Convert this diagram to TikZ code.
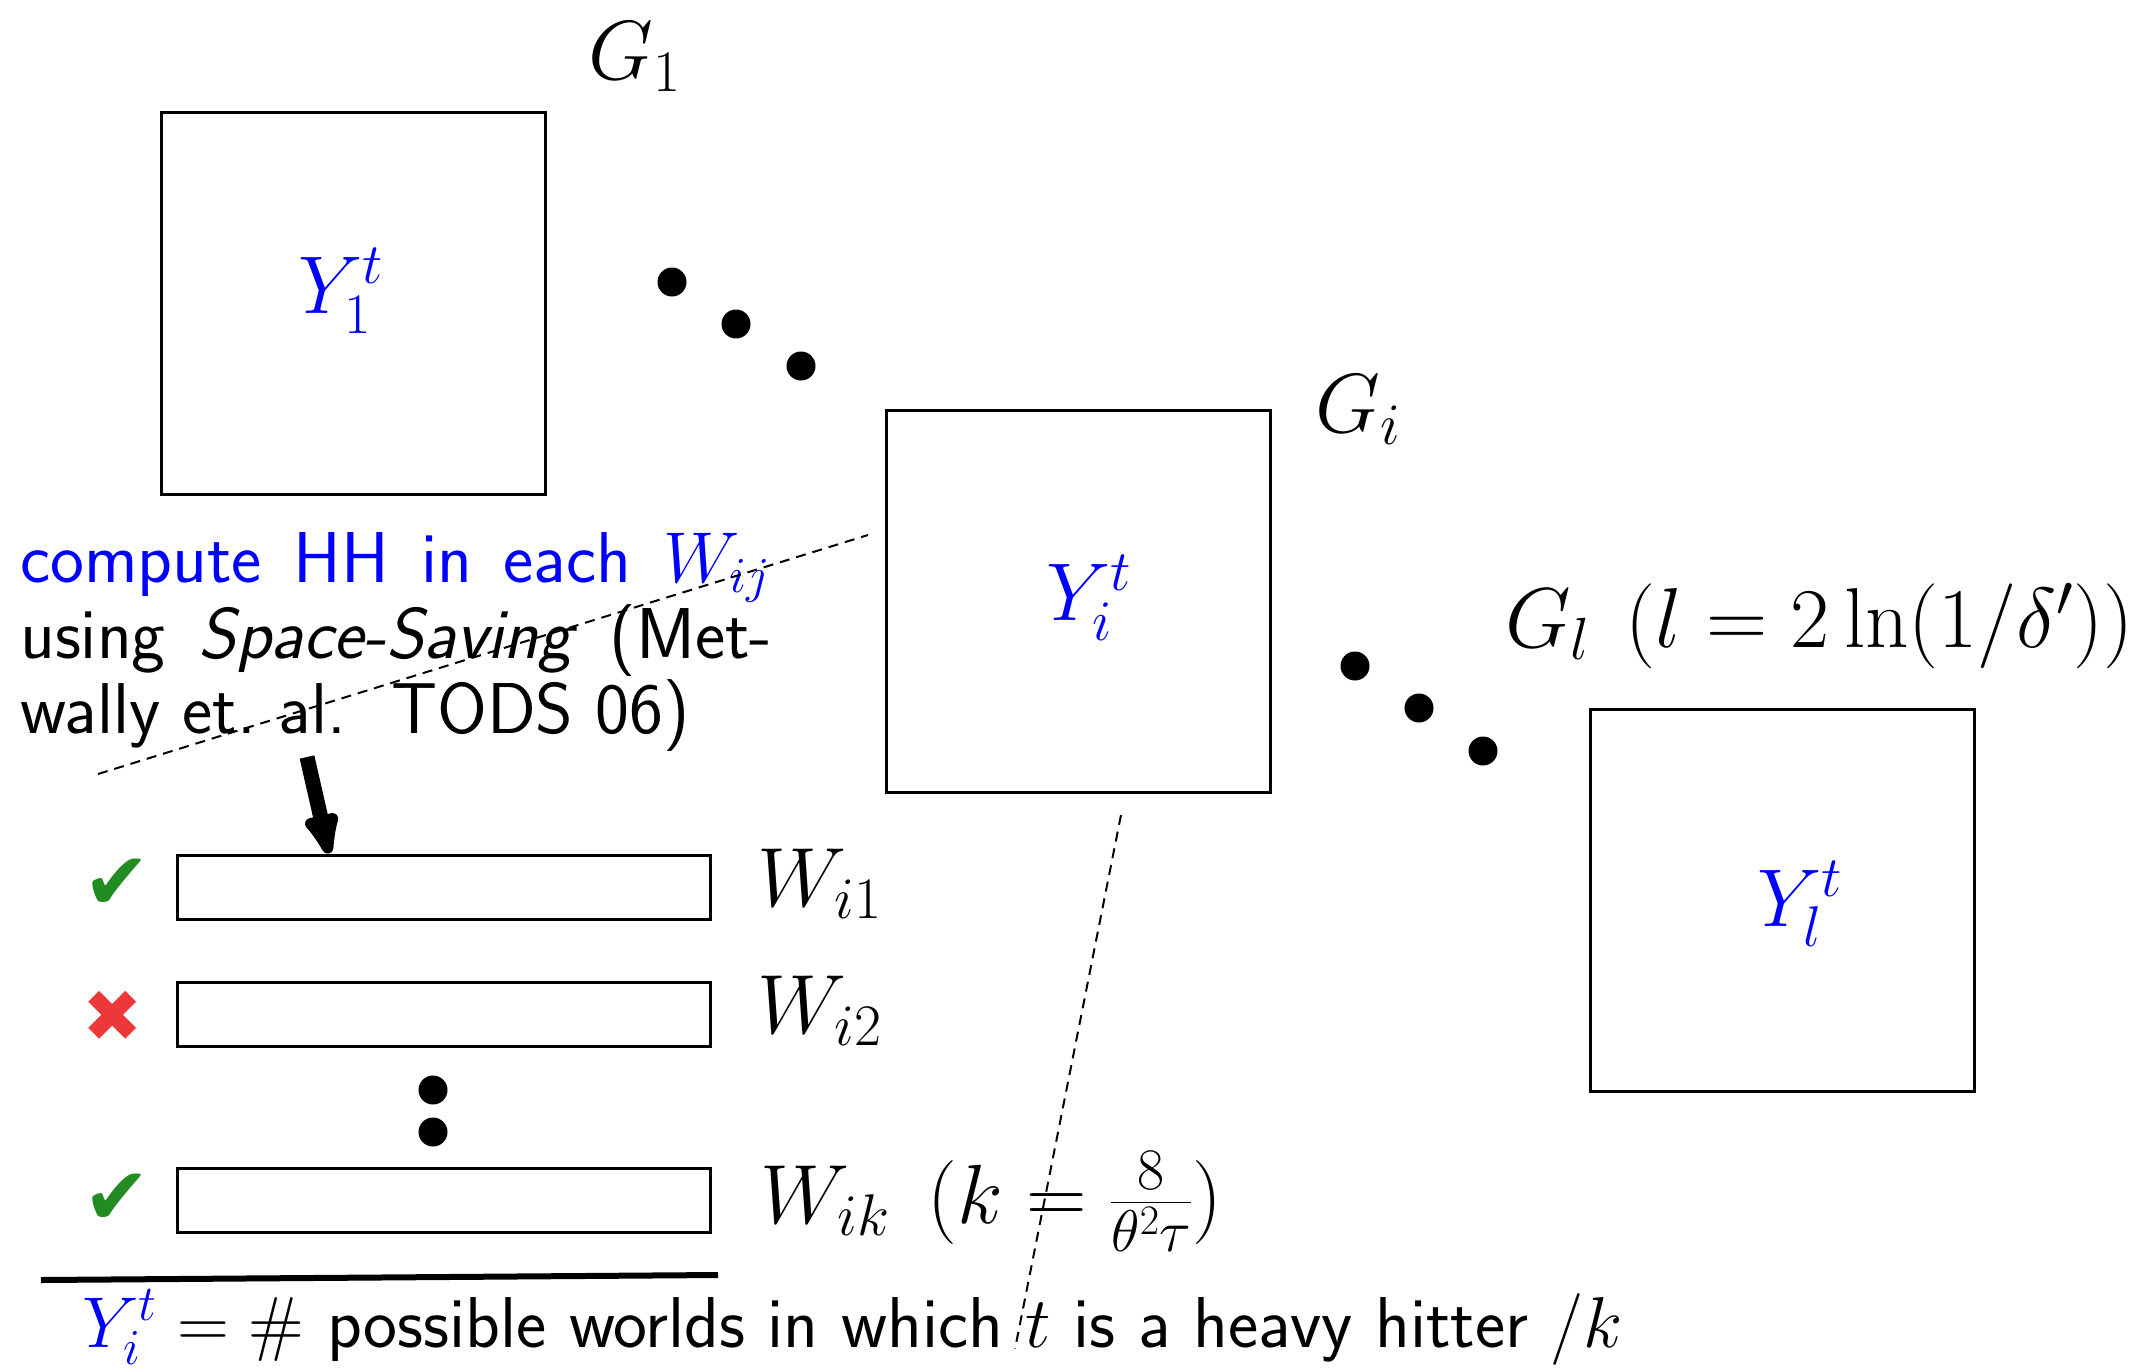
\RequirePackage{fix-cm}
\documentclass[tikz,border=0pt]{standalone}
\usepackage{fontspec}
\newfontfamily\symfont{DejaVu Sans}
\usetikzlibrary{arrows.meta}
\definecolor{okgreen}{RGB}{34,140,34}
\definecolor{badred}{RGB}{236,56,56}
\begin{document}
\begin{tikzpicture}[x=1pt,y=-1pt,
  gbox/.style={draw,line width=3pt,minimum width=384pt,minimum height=382pt,inner sep=0pt},
  wbar/.style={draw,line width=3pt,minimum width=533pt,minimum height=64pt,inner sep=0pt},
  lbl/.style={font=\fontsize{84}{90}\selectfont,inner sep=0pt,anchor=base west},
  ylbl/.style={font=\fontsize{82}{90}\selectfont,inner sep=0pt,anchor=base west,text=blue},
  txt/.style={font=\fontsize{72}{80}\selectfont\sffamily,inner sep=0pt,anchor=base west},
  bigdot/.style={circle,fill,inner sep=0pt,minimum size=29pt},
  dashline/.style={line width=2pt,dash pattern=on 10pt off 7pt},
  okmark/.style={text=okgreen,font=\fontsize{80}{80}\selectfont\symfont,inner sep=0pt},
  badmark/.style={text=badred,font=\fontsize{72}{80}\selectfont\symfont,inner sep=0pt}
]
\useasboundingbox (0,0) rectangle (2136,1368);
% group boxes
\node[gbox] (g1) at (353,303) {};
\node[gbox] (gi) at (1078.5,601.5) {};
\node[gbox] (gl) at (1782,900) {};
\node[lbl] (g1lab) at (588,79) {$G_1$};
\node[lbl] (gilab) at (1315,432) {$G_i$};
\node[lbl,font=\fontsize{85}{90}\selectfont] (gllab) at (1505,647) {$G_l\hspace{0.42em}(l=2\ln(1/\delta'))$};
\node[ylbl] (y1) at (298,313) {$Y_1^t$};
\node[ylbl] (yi) at (1046,620) {$Y_i^t$};
\node[ylbl] (yl) at (1757,926) {$Y_l^t$};
% dots between groups
\foreach \n/\x/\y in {a/672/282,b/736/324,c/801/366,d/1355/666,e/1419/708,f/1483/751}
  \node[bigdot] (dot\n) at (\x,\y) {};
% explanation text
\node[txt,text=blue] (t1) at (20,582) {\makebox[750pt][s]{compute HH in each $W_{ij}$}};
\node[txt] (t2) at (20,658) {\makebox[752pt][s]{using \ \textit{Space-Saving} \ (Met-}};
\node[txt] (t3) at (20,733) {wally et.\ al.\ \ TODS 06)};
% dashed zoom lines
\coordinate (za) at (98,774);
\coordinate (zb) at (868,535);
\coordinate (zc) at (1121,815);
\coordinate (zd) at (1015,1349);
\draw[dashline] (za) -- (zb);
\draw[dashline] (zc) -- (zd);
% bars
\node[wbar] (w1) at (443.5,887) {};
\node[wbar] (w2) at (443.5,1014) {};
\node[wbar] (wk) at (443.5,1200) {};
\node[lbl] (w1lab) at (757,906) {$W_{i1}$};
\node[lbl] (w2lab) at (757,1033) {$W_{i2}$};
\node[lbl] (wklab) at (760,1223) {$W_{ik}\hspace{0.45em}(k=\frac{8}{\theta^2\tau})$};
\node[bigdot] (vd1) at (433,1090) {};
\node[bigdot] (vd2) at (433,1132) {};
% marks
\node[okmark] (m1) at (117,884) {✔};
\node[badmark] (m2) at (113,1016) {✖};
\node[okmark] (m3) at (117,1199) {✔};
% arrow
\coordinate (as) at (307,757);
\draw[line width=15pt,-{Latex[length=57pt,width=42pt,round]}] (as) -- (w1.north -| 329,0);
% bottom rule and text
\coordinate (ra) at (41,1280);
\coordinate (rb) at (718,1275);
\draw[line width=6pt] (ra) -- (rb);
\node[txt] (bottom) at (82,1347) {$\textcolor{blue}{Y_i^t}=\#$ possible worlds in which $t$ is a heavy hitter $/k$};
\end{tikzpicture}
\end{document}
